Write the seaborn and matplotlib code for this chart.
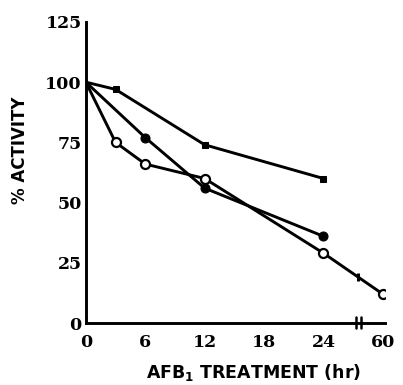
import numpy as np
import pandas as pd
import matplotlib
matplotlib.use("Agg")
import matplotlib.pyplot as plt
import seaborn as sns

# Data (x in hours; 60 hr plotted at axis position 30 after a break)
sq_x = [0, 3, 12, 24]
sq_y = [100, 97, 74, 60]
fc_x = [0, 6, 12, 24]
fc_y = [100, 77, 56, 36]
oc_x = [0, 3, 6, 12, 24, 60]
oc_y = [100, 75, 66, 60, 29, 12]
x_ticks = [0, 6, 12, 18, 24, 60]
y_ticks = [0, 25, 50, 75, 100, 125]

def pos(h):
    h = np.asarray(h, dtype=float)
    return np.where(h > 24, 30.0, h)

sns.set_theme(style="white")
plt.rcParams['font.family'] = ['DejaVu Sans']
plt.rcParams['text.color'] = 'black'
plt.rcParams['axes.labelcolor'] = 'black'
plt.rcParams['xtick.color'] = 'black'
plt.rcParams['ytick.color'] = 'black'

fig = plt.figure(figsize=(4.03, 3.85), dpi=100)
ax = fig.add_axes([0.213, 0.161, 0.742, 0.782])

df_sq = pd.DataFrame({"x": pos(sq_x), "y": sq_y})
df_fc = pd.DataFrame({"x": pos(fc_x), "y": fc_y})
df_oc = pd.DataFrame({"x": pos(oc_x), "y": oc_y})

lw = 2.1
skip0 = slice(1, None)
sns.lineplot(data=df_sq, x="x", y="y", ax=ax, color="black", lw=lw,
             marker="s", markersize=5, markerfacecolor="black",
             markeredgecolor="black", markevery=skip0, zorder=3)
sns.lineplot(data=df_fc, x="x", y="y", ax=ax, color="black", lw=lw,
             marker="o", markersize=6.5, markerfacecolor="black",
             markeredgecolor="black", markevery=skip0, zorder=3)
sns.lineplot(data=df_oc, x="x", y="y", ax=ax, color="black", lw=lw,
             marker="o", markersize=6.5, markerfacecolor="white",
             markeredgecolor="black", markeredgewidth=1.6, markevery=skip0,
             zorder=4)

# break mark on the open-circle line
brk = 27.5
ox = pos(oc_x)
ax.plot([brk], [np.interp(brk, ox, oc_y)], marker="|", markersize=6,
        markeredgewidth=2.2, color="black", zorder=5)

ax.set_xlim(0, 30.2)
ax.set_ylim(0, 125)
ax.set_xticks(pos(x_ticks))
ax.set_xticklabels([str(t) for t in x_ticks])
ax.set_yticks(y_ticks)
ax.set_yticklabels([str(t) for t in y_ticks])

for s in ["top", "right"]:
    ax.spines[s].set_visible(False)
for s in ["left", "bottom"]:
    ax.spines[s].set_linewidth(2.1)
    ax.spines[s].set_color("black")

ax.tick_params(axis="both", direction="in", length=4, width=1.8, color="black",
               labelsize=12.5, labelcolor="black")
ax.tick_params(axis="y", pad=3)
ax.tick_params(axis="x", pad=8)
for lab in ax.get_xticklabels() + ax.get_yticklabels():
    lab.set_fontfamily("DejaVu Serif")
    lab.set_fontweight("bold")

# x-axis break marks
for dx in (-0.25, 0.25):
    ax.plot([brk + dx, brk + dx], [-2.0, 2.5], color="black", lw=1.8,
            clip_on=False, zorder=6)

ax.set_xlabel("AFB$_\\mathbf{1}$ TREATMENT (hr)", fontsize=12.5, fontweight="bold",
              color="black")
ax.xaxis.set_label_coords(0.56, -0.13)
ax.set_ylabel("% ACTIVITY", fontsize=12, fontweight="bold", color="black")
ax.yaxis.set_label_coords(-0.19, 0.575)

fig.savefig("out.png", dpi=100)
